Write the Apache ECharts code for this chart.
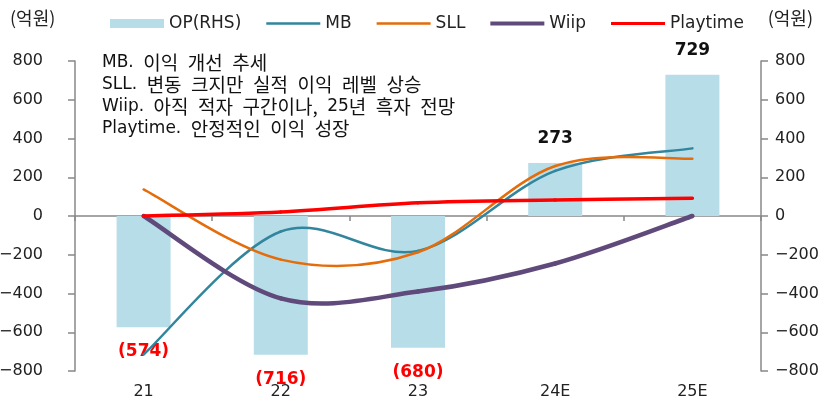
<!DOCTYPE html>
<html>
<head>
<meta charset="utf-8">
<script src="https://cdn.jsdelivr.net/npm/echarts@6/dist/echarts.min.js"></script>
<style>
html,body{margin:0;padding:0;background:#fff;}
#chart{width:829px;height:403px;}
</style>
</head>
<body>
<div id="chart"></div>
<script>
const categories = ['21', '22', '23', '24E', '25E'];
const opValues = [-574, -716, -680, 273, 729];
const mbValues = [-715, -80, -180, 233, 349];
const sllValues = [137, -225, -187, 258, 296];
const wiipValues = [0, -425, -390, -245, 0];
const playtimeValues = [0, 21, 68, 83, 92];
const seriesNames = ['OP(RHS)', 'MB', 'SLL', 'Wiip', 'Playtime'];
const unitLabel = '(억원)';
const noteLines = [
  ['MB.', '이익 개선 추세'],
  ['SLL.', '변동 크지만 실적 이익 레벨 상승'],
  ['Wiip.', '아직 적자 구간이나, 25년 흑자 전망'],
  ['Playtime.', '안정적인 이익 성장']
];

const FONT = '"DejaVu Sans", "Noto Sans CJK KR", sans-serif';
const KFONT = '"Noto Sans CJK KR", "DejaVu Sans", sans-serif';
const axisColor = '#888888';
const textColor = '#222222';

function fmtAxis(v) {
  return v < 0 ? '\u2212' + Math.abs(v) : String(v);
}

const chart = echarts.init(document.getElementById('chart'));

const barData = opValues.map(v => ({
  value: v,
  label: v < 0
    ? { position: 'bottom', color: '#ff0000', distance: 16 }
    : { position: 'top', color: '#111111', distance: 16 }
}));

// Smooth (Catmull-Rom style) curve drawn through the axis coordinates of each value.
function smoothSeries(name, values, color, width, z) {
  return {
    name: name,
    type: 'custom',
    xAxisIndex: 0,
    yAxisIndex: 0,
    z: z,
    clip: false,
    itemStyle: { color: color },
    encode: { x: 0, y: 1 },
    data: values.map((v, i) => [i, v]),
    renderItem: function (params, api) {
      const i = params.dataIndex;
      const n = values.length;
      if (i >= n - 1) return null;
      const pt = k => {
        const kk = Math.max(0, Math.min(n - 1, k));
        return api.coord([kk, values[kk]]);
      };
      const p0 = pt(i - 1), p1 = pt(i), p2 = pt(i + 1), p3 = pt(i + 2);
      const t = 1 / 6;
      return {
        type: 'bezierCurve',
        shape: {
          x1: p1[0], y1: p1[1],
          x2: p2[0], y2: p2[1],
          cpx1: p1[0] + (p2[0] - p0[0]) * t,
          cpy1: p1[1] + (p2[1] - p0[1]) * t,
          cpx2: p2[0] - (p3[0] - p1[0]) * t,
          cpy2: p2[1] - (p3[1] - p1[1]) * t
        },
        style: { stroke: color, lineWidth: width, fill: null, lineCap: 'round' }
      };
    }
  };
}

function lineIcon(w) {
  const a = (9 - w) / 2, b = a + w;
  return 'path://M0,0L0.05,0L0.05,0.05Z M0,9L0.05,9L0.05,8.95Z M0,' + a + 'L54,' + a + 'L54,' + b + 'L0,' + b + 'Z';
}

// Korean text in the reference uses wide (half-em) word spaces.
const SP = '\u2002';
function richLine(parts) {
  const kor = parts[1].split(' ').join(SP).replace(/(\d+)/g, '}{d|$1}{k|');
  return '{l|' + parts[0] + '}{k|' + SP + kor + '}';
}

chart.setOption({
  animation: false,
  textStyle: { fontFamily: FONT },
  grid: { left: 75, right: 68, top: 61, bottom: 32, containLabel: false, outerBoundsMode: 'none' },
  legend: {
    top: 10,
    left: 105,
    itemWidth: 54,
    itemHeight: 9,
    itemGap: 25,
    textStyle: { fontSize: 17, color: textColor, fontFamily: FONT },
    data: [
      { name: seriesNames[0], icon: 'rect' },
      { name: seriesNames[1], icon: lineIcon(2.6) },
      { name: seriesNames[2], icon: lineIcon(2.6) },
      { name: seriesNames[3], icon: lineIcon(4) },
      { name: seriesNames[4], icon: lineIcon(3.2) }
    ]
  },
  xAxis: [
    {
      type: 'category',
      data: categories,
      axisLine: { onZero: true, lineStyle: { color: axisColor, width: 1.5 } },
      axisTick: { show: true, length: 5, lineStyle: { color: axisColor, width: 1.5 } },
      axisLabel: { show: false },
      splitLine: { show: false }
    },
    {
      type: 'category',
      data: categories,
      position: 'bottom',
      axisLine: { show: false, onZero: false },
      axisTick: { show: false },
      axisLabel: { show: true, margin: 13, fontSize: 16, color: textColor, fontFamily: FONT },
      splitLine: { show: false }
    }
  ],
  yAxis: [
    {
      type: 'value', min: -800, max: 800, interval: 200,
      position: 'left',
      axisLine: { show: true, lineStyle: { color: axisColor, width: 1.5 } },
      axisTick: { show: true, inside: false, length: 7, lineStyle: { color: axisColor, width: 1.5 } },
      axisLabel: { margin: 32, fontSize: 16, color: textColor, fontFamily: FONT, formatter: fmtAxis },
      splitLine: { show: false }
    },
    {
      type: 'value', min: -800, max: 800, interval: 200,
      position: 'right',
      axisLine: { show: true, lineStyle: { color: axisColor, width: 1.5 } },
      axisTick: { show: true, inside: false, length: 7, lineStyle: { color: axisColor, width: 1.5 } },
      axisLabel: { margin: 14, fontSize: 16, color: textColor, fontFamily: FONT, formatter: fmtAxis },
      splitLine: { show: false }
    }
  ],
  series: [
    {
      name: seriesNames[0], type: 'bar', xAxisIndex: 0, yAxisIndex: 1,
      barWidth: 54,
      itemStyle: { color: '#b7dde8' },
      label: {
        show: true, fontSize: 17, fontWeight: 'bold', fontFamily: FONT,
        formatter: p => p.value < 0 ? '(' + Math.abs(p.value) + ')' : String(p.value)
      },
      data: barData,
      z: 1
    },
    smoothSeries(seriesNames[1], mbValues, '#31859c', 2.5, 3),
    smoothSeries(seriesNames[2], sllValues, '#e46c0a', 2.5, 3),
    smoothSeries(seriesNames[3], wiipValues, '#604a7b', 4.5, 3),
    smoothSeries(seriesNames[4], playtimeValues, '#ff0000', 3.5, 4)
  ],
  graphic: [
    {
      type: 'text', left: 10, top: 9,
      style: { text: '{k|' + unitLabel + '}', rich: { k: { fontSize: 18, fontFamily: KFONT, fill: textColor } } }
    },
    {
      type: 'text', right: 16, top: 9,
      style: { text: '{k|' + unitLabel + '}', rich: { k: { fontSize: 18, fontFamily: KFONT, fill: textColor } } }
    },
    {
      type: 'text', left: 102, top: 52,
      style: {
        text: noteLines.map(richLine).join('\n'),
        fill: '#111111',
        fontSize: 17,
        fontFamily: FONT,
        lineHeight: 22,
        rich: {
          l: { fontSize: 17, fontFamily: FONT, lineHeight: 22, fill: '#111111' },
          d: { fontSize: 17, fontFamily: FONT, lineHeight: 22, fill: '#111111' },
          k: { fontSize: 19, fontFamily: KFONT, lineHeight: 22, fill: '#111111' }
        }
      }
    }
  ]
});
</script>
</body>
</html>
